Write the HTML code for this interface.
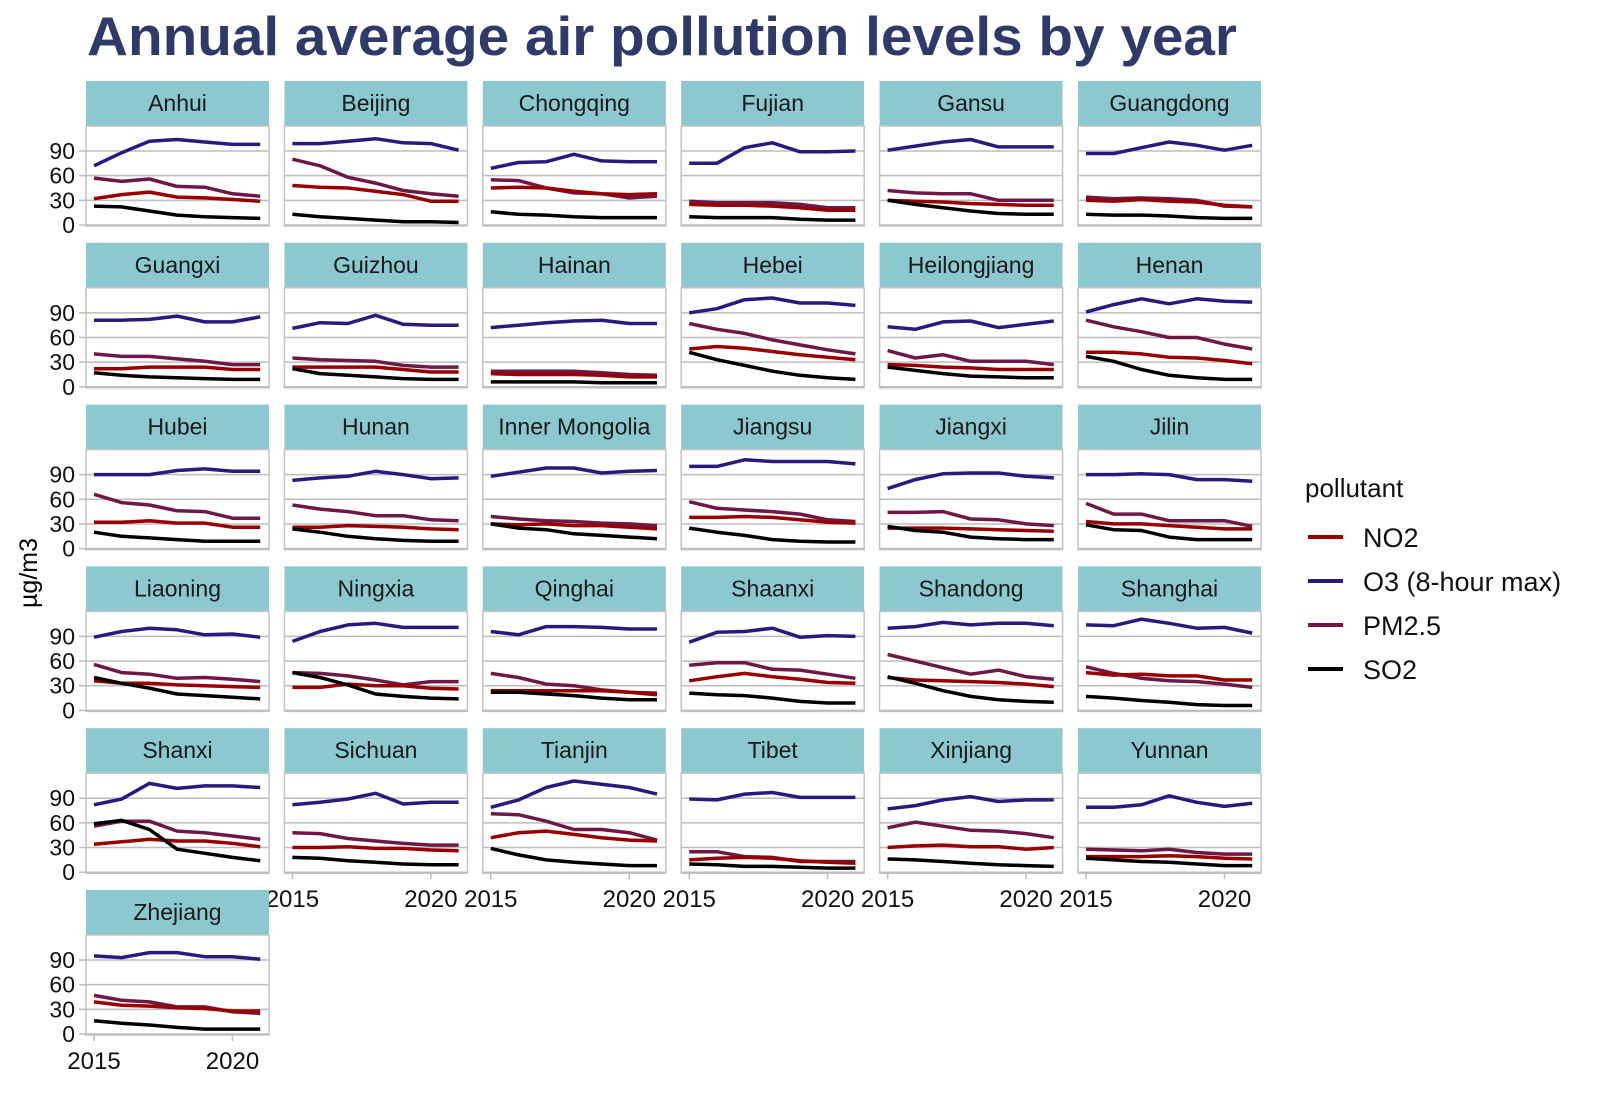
<!DOCTYPE html>
<html><head><meta charset="utf-8"><style>
body{margin:0;background:#fff;}
svg{display:block;font-family:"Liberation Sans",Arial,sans-serif;}
</style></head><body>
<svg id="chart" width="1600" height="1120" viewBox="0 0 1600 1120">
<text x="87" y="55" font-size="55" font-weight="bold" fill="#2e3a68" textLength="1150" lengthAdjust="spacingAndGlyphs">Annual average air pollution levels by year</text>
<text transform="translate(37,573) rotate(-90)" text-anchor="middle" font-size="25" fill="#000">µg/m3</text>
<g id="panels"></g>
<g id="legend"></g>
</svg>
<script>
const years = [2015,2016,2017,2018,2019,2020,2021];
const provinces = ["Anhui","Beijing","Chongqing","Fujian","Gansu","Guangdong","Guangxi","Guizhou","Hainan","Hebei","Heilongjiang","Henan","Hubei","Hunan","Inner Mongolia","Jiangsu","Jiangxi","Jilin","Liaoning","Ningxia","Qinghai","Shaanxi","Shandong","Shanghai","Shanxi","Sichuan","Tianjin","Tibet","Xinjiang","Yunnan","Zhejiang"];
const pollutants = ["NO2","O3 (8-hour max)","PM2.5","SO2"];
const yTicks = [0,30,60,90];
const xTicks = [2015,2020];
const no2 = [
[32,37,40,34,33,31,29],[48,46,45,41,37,29,29],[45,46,45,41,38,37,38],[25,24,24,23,21,18,18],[30,29,28,26,25,24,24],[30,29,31,29,28,24,22],
[22,22,24,24,24,21,21],[24,24,24,24,21,18,18],[16,15,15,15,14,12,12],[46,49,47,43,39,36,33],[27,26,24,23,21,21,21],[42,42,40,36,35,32,28],
[32,32,34,31,31,26,26],[26,26,28,27,26,24,23],[30,29,30,28,28,26,24],[38,38,39,38,35,32,31],[25,25,25,24,23,22,21],[33,30,30,28,26,24,24],
[36,33,33,31,30,29,28],[28,28,32,30,30,27,26],[24,24,24,24,24,22,19],[36,41,45,41,38,34,33],[40,37,36,35,34,32,29],[46,43,44,42,42,37,37],
[34,37,40,38,38,35,31],[30,30,31,29,29,27,26],[42,48,50,46,42,39,38],[15,17,18,17,14,12,11],[30,32,33,31,31,28,30],[19,19,19,20,19,17,16],
[39,35,34,32,31,28,28]];
const o3 = [
[72,88,102,104,101,98,98],[99,99,102,105,100,99,91],[69,76,77,86,78,77,77],[75,75,94,100,89,89,90],[91,96,101,104,95,95,95],[87,87,94,101,97,91,97],
[81,81,82,86,79,79,85],[71,78,77,87,76,75,75],[72,75,78,80,81,77,77],[90,95,106,108,102,102,99],[73,70,79,80,72,76,80],[91,100,107,101,107,104,103],
[90,90,90,95,97,94,94],[83,86,88,94,90,85,86],[88,93,98,98,92,94,95],[100,100,108,106,106,106,103],[73,84,91,92,92,88,86],[90,90,91,90,84,84,82],
[89,96,100,98,92,93,89],[84,96,104,106,101,101,101],[96,92,102,102,101,99,99],[83,95,96,100,89,91,90],[100,102,107,104,106,106,103],[104,103,111,106,100,101,94],
[82,89,108,102,105,105,103],[82,85,89,96,83,85,85],[79,88,103,111,107,103,95],[89,88,95,97,91,91,91],[77,81,88,92,86,88,88],[79,79,82,93,85,80,84],
[95,93,99,99,94,94,91]];
const pm25 = [
[57,53,56,47,46,38,35],[80,72,58,51,42,38,35],[55,54,45,39,38,33,35],[29,27,27,27,25,21,21],[42,39,38,38,30,30,30],[34,32,33,32,30,23,22],
[40,37,37,34,31,27,27],[35,33,32,31,26,24,24],[19,19,19,19,17,15,14],[77,70,65,57,51,45,40],[44,35,39,31,31,31,27],[81,73,67,60,60,52,46],
[66,56,53,46,45,37,37],[53,48,45,40,40,35,34],[39,36,34,33,31,30,28],[57,49,47,45,42,35,33],[44,44,45,36,35,30,28],[55,42,42,34,34,34,27],
[56,46,44,39,40,38,35],[46,45,42,37,31,35,35],[45,40,32,30,25,22,21],[55,58,58,50,49,44,39],[68,60,52,44,49,41,38],[53,45,39,36,35,32,28],
[56,62,62,50,48,44,40],[48,47,41,38,35,33,33],[71,70,62,52,52,48,39],[25,25,19,18,13,13,13],[54,61,56,51,50,47,42],[28,27,26,28,24,22,22],
[47,41,39,33,33,27,25]];
const so2 = [
[23,22,17,12,10,9,8],[13,10,8,6,4,4,3],[16,13,12,10,9,9,9],[10,9,9,9,7,6,6],[30,25,21,17,14,13,13],[13,12,12,11,9,8,8],
[17,14,12,11,10,9,9],[22,16,14,12,10,9,9],[6,6,6,6,5,5,5],[42,33,26,19,14,11,9],[24,20,16,13,12,11,11],[37,31,21,14,11,9,9],
[20,15,13,11,9,9,9],[24,20,15,12,10,9,9],[30,25,23,18,16,14,12],[25,20,16,11,9,8,8],[27,22,20,14,12,11,11],[29,23,22,14,11,11,11],
[40,33,27,20,18,16,14],[46,40,31,20,17,15,14],[22,22,20,18,15,13,13],[21,19,18,15,11,9,9],[41,33,24,17,13,11,10],[17,15,12,10,7,6,6],
[59,63,52,28,23,18,14],[18,17,14,12,10,9,9],[29,21,15,12,10,8,8],[10,9,7,7,6,5,5],[16,15,13,11,9,8,7],[17,15,13,12,10,8,8],
[16,13,11,8,6,6,6]];
const seriesData = [no2,o3,pm25,so2];
const colors = ["#990000","#2b1a7e","#6e1848","#000000"];
const slugs = ["no2","o3","pm25","so2"];

const NS="http://www.w3.org/2000/svg";
function mk(tag,attrs,parent){const e=document.createElementNS(NS,tag);for(const k in attrs)e.setAttribute(k,attrs[k]);parent.appendChild(e);return e;}
const COL0=86, COLP=198.4, ROW0=81, ROWP=161.8, W=183, STRIP=45, PH=145;
const panelsG=document.getElementById('panels');
function xs(left,yr){return left+8+(yr-2015)*27.7;}
function ys(top,v){return top+144-v*0.822;}
provinces.forEach((p,i)=>{
  const c=i%6, r=Math.floor(i/6);
  const left=COL0+c*COLP, top=ROW0+r*ROWP;
  const slug=p.toLowerCase().replace(/ /g,'-');
  const g=mk('g',{},panelsG);
  
  
  const strip=mk('rect',{x:left,y:top,width:W,height:STRIP,fill:'#8cc8d0'},g);
  
  
  const st=mk('text',{x:left+W/2,y:top+30,'text-anchor':'middle','font-size':23,fill:'#1a1a1a'},g);
  st.textContent=p;
  
  
  const bg=mk('rect',{x:left,y:top+STRIP,width:W,height:PH-STRIP,fill:'#fff',stroke:'#c4c4c4','stroke-width':1.5},g);
  
  
  yTicks.forEach(t=>{
    const yy=ys(top,t);
    const gl=mk('line',{x1:left,x2:left+W,y1:yy,y2:yy,stroke:'#bdbdbd','stroke-width':1.5},g);
    
    
    if(c===0){
      mk('line',{x1:left-7,x2:left,y1:yy,y2:yy,stroke:'#bdbdbd','stroke-width':1.5},g);
      const tl=mk('text',{x:left-11,y:yy+8,'text-anchor':'end','font-size':23,fill:'#111'},g);
      tl.textContent=t;
      
      
    }
  });
  const showX = (r===4 && c>=1) || r===5;
  if(showX){
    xTicks.forEach(t=>{
      const xx=xs(left,t);
      mk('line',{x1:xx,x2:xx,y1:top+PH,y2:top+PH+6,stroke:'#bdbdbd','stroke-width':1.5},g);
      const xl=mk('text',{x:xx,y:top+179,'text-anchor':'middle','font-size':24,fill:'#111'},g);
      xl.textContent=t;
      
      
    });
  }
  [1,2,0,3].forEach(s=>{
    const vals=seriesData[s][i];
    const pts=vals.map((v,k)=>xs(left,years[k]).toFixed(1)+','+ys(top,v).toFixed(1)).join(' ');
    const pl=mk('polyline',{points:pts,fill:'none',stroke:colors[s],'stroke-width':3.5,'stroke-linejoin':'round'},g);
    
    
  });
});
const lg=document.getElementById('legend');
const lt=mk('text',{x:1305,y:497,'font-size':26,fill:'#111'},lg);
lt.textContent='pollutant';


pollutants.forEach((p,k)=>{
  const cy=537+k*44;
  const eg=mk('g',{},lg);
  
  
  mk('line',{x1:1308,x2:1343,y1:cy,y2:cy,stroke:colors[k],'stroke-width':4},eg);
  const t=mk('text',{x:1363,y:cy+10,'font-size':27,fill:'#111'},eg);
  t.textContent=p;
});
</script>
</body></html>
